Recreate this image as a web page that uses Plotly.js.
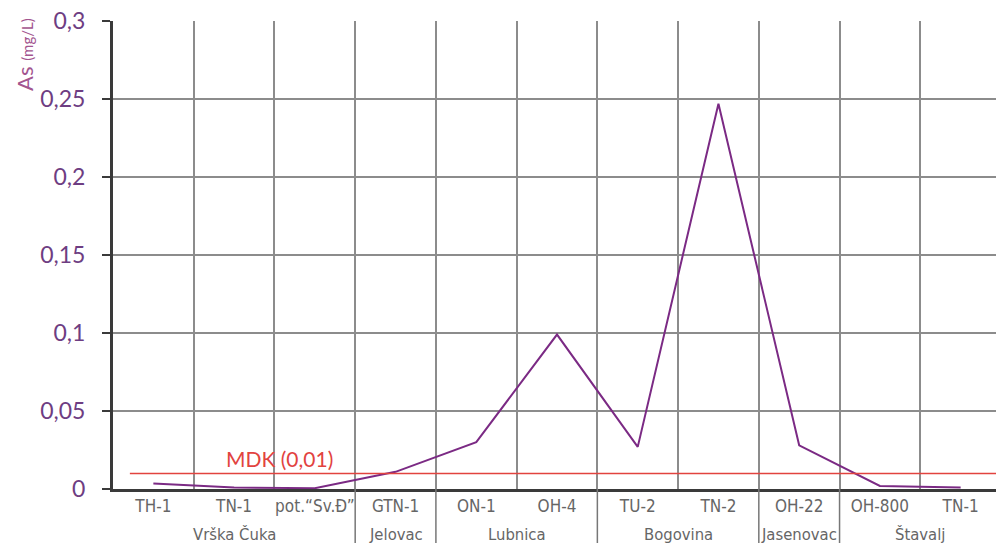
<!DOCTYPE html>
<html>
<head>
<meta charset="utf-8">
<script src="https://cdn.plot.ly/plotly-3.0.1.min.js"></script>
<style>
html,body{margin:0;padding:0;overflow:hidden;background:#fff;width:996px;height:543px;}
#chart{width:1001px;height:543px;}
</style>
</head>
<body>
<div id="chart"></div>
<script>
// ---- data ----
const labels = ['TH-1', 'TN-1', 'pot.\u201CSv.\u0110\u201D', 'GTN-1', 'ON-1', 'OH-4', 'TU-2', 'TN-2', 'OH-22', 'OH-800', 'TN-1'];
const asValues = [0.0035, 0.001, 0.0005, 0.011, 0.030, 0.099, 0.027, 0.247, 0.028, 0.002, 0.001];
const groupNames = ['Vrška Čuka', 'Jelovac', 'Lubnica', 'Bogovina', 'Jasenovac', 'Štavalj'];
const groupSizes = [3, 1, 2, 2, 1, 2];
const mdkValue = 0.01;
const mdkLabel = 'MDK (0,01)';
const yTitle = 'As <span style="font-size:15px">(mg/L)</span>';

// ---- derived ----
const idx = labels.map((_, i) => i);
const boundaries = [];
for (let i = 0; i <= labels.length; i++) boundaries.push(i - 0.5);

const labelFont = 'DejaVu Sans Condensed, Liberation Sans Narrow, sans-serif';
const shapes = [];
const annotations = [];
let start = 0;
groupSizes.forEach((n, g) => {
  const center = start + (n - 1) / 2;
  annotations.push({
    x: center, xref: 'x', y: -0.097, yref: 'paper',
    text: groupNames[g], showarrow: false, xanchor: 'center', yanchor: 'middle',
    font: {family: labelFont, size: 16.5, color: '#666', weight: 300}
  });
  start += n;
  if (g < groupSizes.length - 1) {
    shapes.push({type: 'line', xref: 'x', yref: 'paper', x0: start - 0.5, x1: start - 0.5, y0: 0, y1: -0.13,
      line: {color: '#777', width: 1.5}});
  }
});

shapes.push({type: 'line', xref: 'paper', yref: 'y', x0: 0.019, x1: 1, y0: mdkValue, y1: mdkValue,
  line: {color: '#e2433f', width: 1.5}, layer: 'above'});

annotations.push({
  x: 1.56, xref: 'x', y: mdkValue, yref: 'y', yanchor: 'bottom', yshift: 0,
  text: mdkLabel, showarrow: false, xanchor: 'center',
  font: {family: 'Lato, sans-serif', size: 21, color: '#e2433f'}
});

annotations.push({
  x: -0.1, xref: 'paper', y: 0.928, yref: 'paper', textangle: -90,
  text: yTitle, showarrow: false, xanchor: 'center', yanchor: 'middle',
  font: {family: 'Lato, sans-serif', size: 22, color: '#a3558f'}
});

const trace = {
  x: idx, y: asValues, type: 'scatter', mode: 'lines',
  line: {color: '#7b2a84', width: 2}, hoverinfo: 'skip'
};

const layout = {
  width: 1001, height: 543,
  margin: {l: 113, r: 0, t: 21, b: 54},
  paper_bgcolor: '#fff', plot_bgcolor: '#fff',
  separators: ', ',
  showlegend: false,
  xaxis: {
    range: [-0.5, labels.length - 0.5],
    tickmode: 'array', tickvals: idx, ticktext: labels,
    showgrid: false, zeroline: false, ticks: '',
    showline: true, linecolor: '#3a3a3a', linewidth: 2.5,
    tickfont: {family: labelFont, size: 17, color: '#666', weight: 300},
    minor: {tickmode: 'array', tickvals: boundaries, showgrid: true, gridcolor: '#8c8c8c', gridwidth: 2, ticks: ''},
    fixedrange: true
  },
  yaxis: {
    range: [0, 0.3], dtick: 0.05, tick0: 0,
    showgrid: true, gridcolor: '#8c8c8c', gridwidth: 2,
    zeroline: false, showline: true, linecolor: '#3a3a3a', linewidth: 3,
    ticks: 'outside', ticklen: 8, tickwidth: 2, tickcolor: '#3a3a3a',
    ticklabelstandoff: 12,
    tickfont: {family: 'Lato, sans-serif', size: 23, color: '#6e3d82'},
    fixedrange: true
  },
  shapes: shapes,
  annotations: annotations
};

Plotly.newPlot('chart', [trace], layout, {displayModeBar: false, staticPlot: true});
</script>
</body>
</html>
